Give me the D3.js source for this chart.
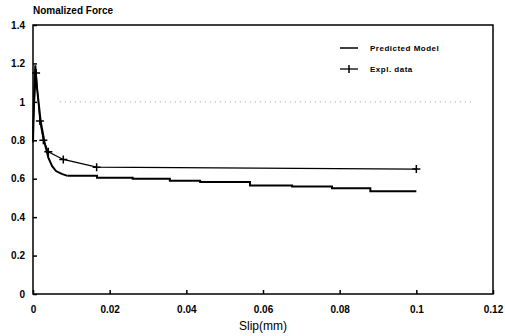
<!DOCTYPE html>
<html>
<head>
	<meta charset="utf-8">
	<script src="https://cdnjs.cloudflare.com/ajax/libs/d3/7.8.5/d3.min.js"></script>
	<style>
		body { margin: 0; background: #fff; }
		text { font-family: 'Liberation Sans', Arial, sans-serif; fill: #000; }
		.tick text { font-size: 10px; font-weight: bold; }
		.title { font-size: 10px; font-weight: bold; }
		.legend { font-size: 8px; font-weight: bold; letter-spacing: 0.5px; }
	</style>
</head>
<body>
<div id="chart"></div>
<script>

//////////////////// Data ////////////////////

var xTicks = [0, 0.02, 0.04, 0.06, 0.08, 0.1, 0.12];
var yTicks = [0, 0.2, 0.4, 0.6, 0.8, 1, 1.2, 1.4];

//Predicted model, steep start (solid line)
var predictedX = [0, 0.0003, 0.0006, 0.001, 0.002, 0.003, 0.004, 0.005, 0.006, 0.0075, 0.009];
var predictedY = [0.79, 1.05, 1.19, 1.08, 0.9, 0.79, 0.71, 0.665, 0.64, 0.625, 0.615];

//Predicted model, stepped tail
var predictedTailX = [0.009, 0.0167, 0.026, 0.0357, 0.0436, 0.0566, 0.0676, 0.078, 0.088, 0.1];
var predictedTailY = [0.615, 0.605, 0.6, 0.59, 0.583, 0.565, 0.56, 0.55, 0.535, 0.535];

//Experimental data (line with + markers)
var explX = [0, 0.0008, 0.0018, 0.0027, 0.004, 0.0079, 0.0166, 0.1];
var explY = [0.86, 1.15, 0.9, 0.8, 0.74, 0.70, 0.66, 0.65];

//////////////////// Setup ////////////////////

var margin = {top: 25, right: 12, bottom: 42, left: 33},
    width = 505 - margin.left - margin.right,
    height = 336 - margin.top - margin.bottom;

var svg = d3.select("#chart")
	.append("svg")
		.attr("width", 505)
		.attr("height", 336)
	.append("g")
		.attr("transform", "translate(" + margin.left + "," + margin.top + ")");

var x = d3.scaleLinear().domain([0, 0.12]).range([0, width]);
var y = d3.scaleLinear().domain([0, 1.4]).range([height, 0]);

//Faint dotted line at 1 (as in the scan)
svg.append("line")
	.attr("x1", x(0.007)).attr("x2", x(0.115))
	.attr("y1", y(1)).attr("y2", y(1))
	.style("stroke", "#999")
	.style("stroke-width", 1)
	.style("stroke-dasharray", "1,4");

//Frame
svg.append("rect")
	.attr("width", width)
	.attr("height", height)
	.style("fill", "none")
	.style("stroke", "#000")
	.style("stroke-width", 1.5);

//Axes
svg.append("g")
	.attr("transform", "translate(0," + height + ")")
	.call(d3.axisBottom(x).tickValues(xTicks).tickSizeInner(-4).tickSizeOuter(0).tickPadding(12)
		.tickFormat(function(d) { return d3.format("~g")(d); }));

svg.append("g")
	.call(d3.axisLeft(y).tickValues(yTicks).tickSizeInner(-4).tickSizeOuter(0).tickPadding(8)
		.tickFormat(function(d) { return d3.format("~g")(d); }));

svg.selectAll(".domain").remove();
svg.selectAll(".tick line").style("stroke", "#000").style("stroke-width", 1.5);

//Titles
svg.append("text")
	.attr("class", "title")
	.attr("x", 0)
	.attr("y", -11)
	.text("Nomalized Force");

svg.append("text")
	.attr("x", width / 2)
	.attr("y", height + 36)
	.style("text-anchor", "middle")
	.style("font-size", "12px")
	.text("Slip(mm)");

//////////////////// Lines ////////////////////

var line = d3.line()
	.x(function(d) { return x(d[0]); })
	.y(function(d) { return y(d[1]); });

var stepLine = d3.line()
	.curve(d3.curveStepAfter)
	.x(function(d) { return x(d[0]); })
	.y(function(d) { return y(d[1]); });

var predicted = d3.zip(predictedX, predictedY);
var predictedTail = d3.zip(predictedTailX, predictedTailY);
var expl = d3.zip(explX, explY);

svg.append("path")
	.datum(predicted)
	.attr("d", line)
	.style("fill", "none")
	.style("stroke", "#000")
	.style("stroke-width", 2);

svg.append("path")
	.datum(predictedTail)
	.attr("d", stepLine)
	.style("fill", "none")
	.style("stroke", "#000")
	.style("stroke-width", 2);

svg.append("path")
	.datum(expl)
	.attr("d", line)
	.style("fill", "none")
	.style("stroke", "#000")
	.style("stroke-width", 1.3);

svg.selectAll(".marker")
	.data(expl.slice(1))
   .enter().append("path")
	.attr("class", "marker")
	.attr("transform", function(d) { return "translate(" + x(d[0]) + "," + y(d[1]) + ")"; })
	.attr("d", "M-4,0H4M0,-4V4")
	.style("stroke", "#000")
	.style("stroke-width", 1.5);

//////////////////// Legend ////////////////////

var legend = svg.append("g").attr("transform", "translate(307,23)");

legend.append("line")
	.attr("x1", 0).attr("x2", 18)
	.attr("y1", 0).attr("y2", 0)
	.style("stroke", "#000").style("stroke-width", 1.5);

legend.append("text")
	.attr("class", "legend")
	.attr("x", 30).attr("y", 3)
	.text("Predicted Model");

legend.append("line")
	.attr("x1", 0).attr("x2", 18)
	.attr("y1", 21).attr("y2", 21)
	.style("stroke", "#000").style("stroke-width", 1.3);

legend.append("path")
	.attr("d", "M9,17V25")
	.style("stroke", "#000").style("stroke-width", 1.5);

legend.append("text")
	.attr("class", "legend")
	.attr("x", 30).attr("y", 24)
	.text("Expl. data");

</script>
</body>
</html>
